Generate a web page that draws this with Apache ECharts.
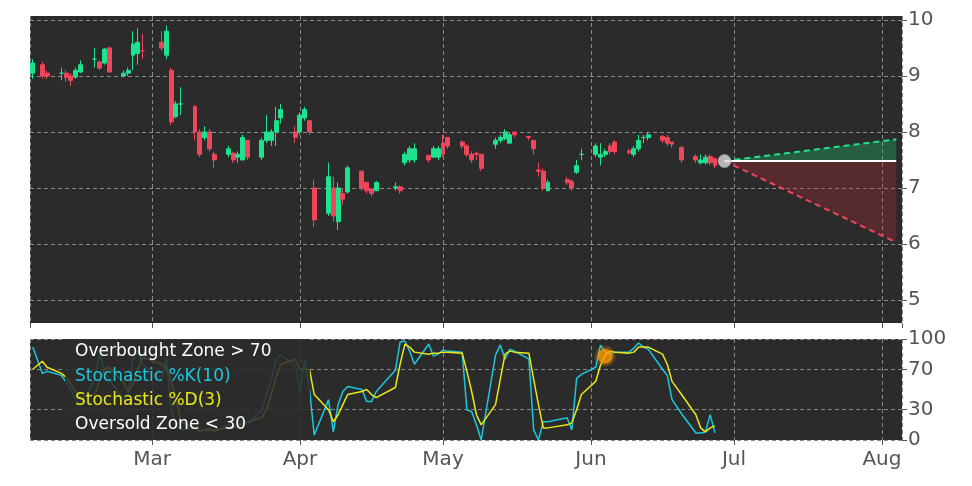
<!DOCTYPE html>
<html><head><meta charset="utf-8">
<script src="https://cdn.jsdelivr.net/npm/echarts@6/dist/echarts.min.js"></script>
<style>html,body{margin:0;padding:0;background:#fff}#c{width:972px;height:486px}</style>
</head><body><div id="c"></div>
<script>
// date, open, close, low, high
const dates = ['2023-02-04','2023-02-06','2023-02-07','2023-02-10','2023-02-11','2023-02-12','2023-02-13','2023-02-14','2023-02-17','2023-02-18','2023-02-19','2023-02-20','2023-02-23','2023-02-24','2023-02-25','2023-02-26','2023-02-27',
'2023-03-03','2023-03-04','2023-03-05','2023-03-06','2023-03-07','2023-03-10','2023-03-11','2023-03-12','2023-03-13','2023-03-14','2023-03-17','2023-03-18','2023-03-19','2023-03-20','2023-03-21','2023-03-24','2023-03-25','2023-03-26','2023-03-27','2023-03-28','2023-03-31',
'2023-04-01','2023-04-02','2023-04-03','2023-04-04','2023-04-07','2023-04-08','2023-04-09','2023-04-10','2023-04-11','2023-04-14','2023-04-15','2023-04-16','2023-04-17','2023-04-21','2023-04-22','2023-04-23','2023-04-24','2023-04-25','2023-04-28','2023-04-29','2023-04-30',
'2023-05-01','2023-05-02','2023-05-05','2023-05-06','2023-05-07','2023-05-08','2023-05-09','2023-05-12','2023-05-13','2023-05-14','2023-05-15','2023-05-16','2023-05-19','2023-05-20','2023-05-21','2023-05-22','2023-05-23','2023-05-27','2023-05-28','2023-05-29','2023-05-30',
'2023-06-02','2023-06-03','2023-06-04','2023-06-05','2023-06-06','2023-06-09','2023-06-10','2023-06-11','2023-06-12','2023-06-13','2023-06-16','2023-06-17','2023-06-18','2023-06-20','2023-06-23','2023-06-24','2023-06-25','2023-06-26','2023-06-27'];
const opens  = [9.05,9.2,9.05,9.05,9.05,9.0,8.98,9.07,9.3,9.25,9.23,9.5,9.0,9.05,9.37,9.4,9.45, 9.6,9.37,9.1,8.27,8.5,8.45,8.0,7.9,8.0,7.6,7.6,7.62,7.55,7.5,7.85,7.55,7.85,7.85,8.0,8.25,8.0, 8.0,8.25,8.2,7.0,6.55,7.0,6.4,6.9,6.93,7.3,7.1,6.98,6.95,7.0,7.02,7.45,7.5,7.5,7.58,7.55,7.55, 7.8,7.9,7.82,7.75,7.6,7.62,7.6,7.78,7.85,7.88,7.8,8.0,7.92,7.85,7.32,7.3,6.95,7.15,7.12,7.28,7.6, 7.6,7.55,7.6,7.75,7.82,7.66,7.6,7.7,7.9,7.9,7.92,7.9,7.82,7.72,7.56,7.45,7.45,7.56,7.52];
const closes = [9.23,9.0,9.0,9.05,8.97,8.92,9.1,9.2,9.3,9.14,9.48,9.07,9.05,9.1,9.57,9.6,9.45, 9.5,9.8,8.18,8.5,8.5,8.0,7.6,8.0,7.7,7.5,7.7,7.5,7.6,7.9,7.55,7.85,8.0,8.0,8.2,8.4,7.9, 8.3,8.4,8.0,6.43,7.2,6.5,7.0,6.8,7.36,7.0,6.95,6.9,7.1,7.02,6.95,7.6,7.7,7.7,7.5,7.7,7.7, 7.6,7.75,7.75,7.6,7.5,7.6,7.35,7.85,7.9,8.0,7.95,7.95,7.9,7.7,7.3,7.0,7.1,7.1,7.0,7.4,7.6, 7.75,7.6,7.65,7.65,7.65,7.63,7.7,7.85,7.9,7.95,7.85,7.8,7.78,7.5,7.5,7.5,7.55,7.45,7.4];
const lows   = [8.95,8.95,8.95,8.92,8.9,8.82,8.95,9.05,9.15,9.1,9.2,9.07,8.98,9.0,9.1,9.2,9.3, 9.45,9.3,8.12,8.25,8.3,7.85,7.55,7.85,7.65,7.35,7.55,7.45,7.45,7.5,7.5,7.5,7.8,7.75,7.75,8.15,7.8, 7.95,8.2,7.95,6.3,6.5,6.4,6.25,6.7,6.9,6.95,6.9,6.85,6.95,6.95,6.9,7.4,7.45,7.45,7.45,7.55,7.5, 7.55,7.7,7.7,7.55,7.45,7.5,7.3,7.7,7.8,7.85,7.8,7.9,7.85,7.6,7.2,6.95,6.95,7.05,6.95,7.25,7.5, 7.55,7.4,7.55,7.6,7.6,7.6,7.55,7.65,7.8,7.85,7.8,7.75,7.72,7.45,7.45,7.42,7.42,7.4,7.35];
const highs  = [9.3,9.25,9.1,9.15,9.1,9.05,9.15,9.28,9.5,9.28,9.5,9.52,9.1,9.15,9.8,9.85,9.75, 9.8,9.9,9.15,8.55,8.8,8.48,8.05,8.1,8.05,7.65,7.75,7.65,7.65,7.95,7.85,7.9,8.3,8.05,8.45,8.5,8.1, 8.35,8.45,8.2,7.15,7.45,7.2,7.1,7.0,7.4,7.32,7.1,7.0,7.12,7.1,7.05,7.65,7.75,7.8,7.6,7.75,7.75, 7.95,7.9,7.85,7.78,7.65,7.65,7.6,7.9,7.95,8.05,8.0,8.0,7.92,7.85,7.45,7.35,7.15,7.2,7.15,7.5,7.7, 7.8,7.8,7.7,7.8,7.85,7.7,7.75,7.95,7.95,8.0,7.95,7.95,7.82,7.75,7.6,7.6,7.6,7.6,7.55];
const stochK = [92,66,68,64,57,50,40,35,60,85,70,60,40,45,80,88,75, 60,80,30,15,10,12,8,10,12,8,15,12,14,20,15,30,45,60,80,84,74, 48,80,50,5,40,8,35,48,53,50,38,38,48,69,97,98,88,75,95,83,85, 89,88,87,30,28,15,0,84,94,80,90,88,80,10,0,18,18,22,10,61,65, 72,94,87,85,87,87,91,96,92,90,70,64,40,26,7,7,8,25,7];
const stochD = [70,78,72,66,62,55,48,42,45,58,70,72,57,48,55,70,82, 75,72,58,42,18,12,10,10,10,10,12,12,14,16,18,22,30,45,62,75,80, 70,70,70,45,30,18,25,35,45,48,50,45,42,52,75,95,92,87,85,86,86, 87,87,86,68,48,25,15,35,60,85,88,87,86,60,35,12,12,15,17,30,45, 58,74,84,88,87,86,87,92,92,92,85,75,58,45,25,12,8,12,14];
const lastDate = '2023-06-29', lastClose = 7.48;
const fcDate = '2023-08-04', fcHigh = 7.87, fcLow = 6.03;
const signalDate = '2023-06-04', signalValue = 83;
const monthNames = ['Jan','Feb','Mar','Apr','May','Jun','Jul','Aug','Sep','Oct','Nov','Dec'];
const priceTicks = [5,6,7,8,9,10];
const stochTicks = [0,30,70,100];

const candles = dates.map((d,i)=>[d,opens[i],closes[i],lows[i],highs[i]]);
const ts = s => +new Date(s+'T00:00:00');
const xMin = ts('2023-02-03')+10*3600e3, xMax = ts('2023-08-05')+5*3600e3;
const split = {show:true,lineStyle:{color:'#8a8a8a',type:[4,3],width:1}};
const monthFmt = v => { const d=new Date(v); return d.getDate()===1 ? monthNames[d.getMonth()] : ''; };
const xCommon = {type:'time',min:xMin,max:xMax,splitNumber:6,axisLine:{show:false},
  axisTick:{show:true,length:5,lineStyle:{color:'#555'}},
  splitLine:split, minorTick:{show:false}};
const chart = echarts.init(document.getElementById('c'));
chart.setOption({
  backgroundColor:'#fff', animation:false,
  grid:[{left:30,right:70,top:16,height:307,backgroundColor:'#2b2b2b',show:true,borderWidth:0},
        {left:30,right:70,top:339,height:101,backgroundColor:'#2b2b2b',show:true,borderWidth:0}],
  xAxis:[Object.assign({gridIndex:0,axisLabel:{show:false}},xCommon),
         Object.assign({gridIndex:1,axisLabel:{show:true,color:'#555',fontSize:20,fontFamily:'DejaVu Sans',margin:10,hideOverlap:false,
            formatter:monthFmt}},xCommon)],
  yAxis:[{gridIndex:0,position:'right',min:4.59,max:10.07,axisLine:{show:false},
          axisTick:{show:true,customValues:priceTicks,length:5,lineStyle:{color:'#555'}},
          axisLabel:{customValues:priceTicks,color:'#555',fontSize:20,fontFamily:'DejaVu Sans',margin:6},splitLine:split},
         {gridIndex:1,position:'right',min:0,max:100,axisLine:{show:false},
          axisTick:{show:true,customValues:stochTicks,length:5,lineStyle:{color:'#555'}},
          axisLabel:{customValues:stochTicks,color:'#555',fontSize:20,fontFamily:'DejaVu Sans',margin:6},splitLine:split}],
  series:[
    {type:'candlestick',xAxisIndex:0,yAxisIndex:0,barMaxWidth:6,data:candles,
     itemStyle:{color:'#1de38f',color0:'#f0465c',borderColor:'#1de38f',borderColor0:'#f0465c',borderWidth:1}},
    {type:'line',xAxisIndex:0,yAxisIndex:0,stack:'g',symbol:'none',lineStyle:{opacity:0},data:[[lastDate,lastClose],[fcDate,lastClose]]},
    {type:'line',xAxisIndex:0,yAxisIndex:0,stack:'g',symbol:'none',lineStyle:{opacity:0},areaStyle:{color:'rgba(30,200,120,0.45)'},data:[[lastDate,0],[fcDate,fcHigh-lastClose]]},
    {type:'line',xAxisIndex:0,yAxisIndex:0,stack:'r',symbol:'none',lineStyle:{opacity:0},data:[[lastDate,lastClose],[fcDate,fcLow]]},
    {type:'line',xAxisIndex:0,yAxisIndex:0,stack:'r',symbol:'none',lineStyle:{opacity:0},areaStyle:{color:'rgba(200,40,60,0.4)'},data:[[lastDate,0],[fcDate,lastClose-fcLow]]},
    {type:'line',xAxisIndex:0,yAxisIndex:0,symbol:'none',lineStyle:{color:'#1de38f',width:2,type:[6,4]},data:[[lastDate,lastClose],[fcDate,fcHigh]]},
    {type:'line',xAxisIndex:0,yAxisIndex:0,symbol:'none',lineStyle:{color:'#f0465c',width:2,type:[6,4]},data:[[lastDate,lastClose],[fcDate,fcLow]]},
    {type:'line',xAxisIndex:0,yAxisIndex:0,symbol:'none',lineStyle:{color:'#fff',width:2},data:[[lastDate,lastClose],[fcDate,lastClose]]},
    {type:'scatter',xAxisIndex:0,yAxisIndex:0,symbolSize:13,itemStyle:{color:'#d8d8d8',borderColor:'#999',borderWidth:1},data:[[lastDate,lastClose]],z:10},
    {type:'line',xAxisIndex:1,yAxisIndex:1,symbol:'none',lineStyle:{color:'#19c8dc',width:1.5},data:dates.map((d,i)=>[d,stochK[i]])},
    {type:'line',xAxisIndex:1,yAxisIndex:1,symbol:'none',lineStyle:{color:'#e8e81a',width:1.5},data:dates.map((d,i)=>[d,stochD[i]])},
    {type:'scatter',xAxisIndex:1,yAxisIndex:1,symbolSize:15,itemStyle:{color:'#ff9900',borderColor:'rgba(255,153,0,0.3)',borderWidth:6},data:[[signalDate,signalValue]],z:10}
  ],
  graphic:[
    {type:'rect',left:65,top:339,shape:{width:245,height:101},style:{fill:'rgba(43,43,43,0.85)'},z:100},
    {type:'text',left:75,top:343,style:{text:'Overbought Zone > 70',fill:'#fff',font:'17px DejaVu Sans'},z:101},
    {type:'text',left:75,top:368,style:{text:'Stochastic %K(10)',fill:'#19c8dc',font:'17px DejaVu Sans'},z:101},
    {type:'text',left:75,top:392,style:{text:'Stochastic %D(3)',fill:'#e8e81a',font:'17px DejaVu Sans'},z:101},
    {type:'text',left:75,top:416,style:{text:'Oversold Zone < 30',fill:'#fff',font:'17px DejaVu Sans'},z:101}
  ]
});
</script></body></html>
